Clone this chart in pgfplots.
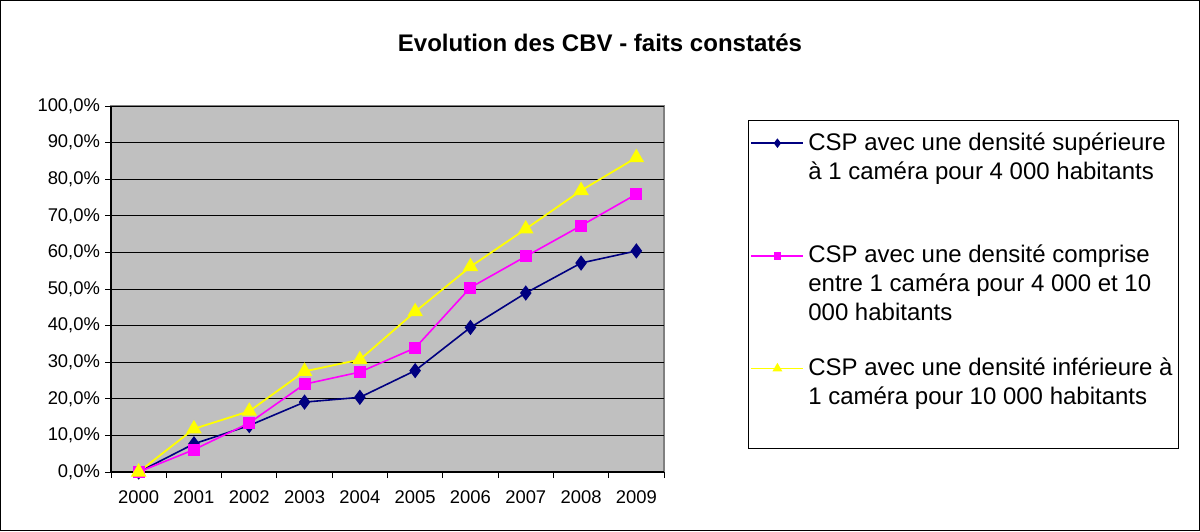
\documentclass[border=0pt]{standalone}
\usepackage{pgfplots}
\pgfplotsset{compat=1.18}
\usepackage{fontspec}
\setmainfont{Liberation Sans}
\definecolor{navyc}{RGB}{0,0,128}
\definecolor{magc}{RGB}{255,0,255}
\definecolor{yelc}{RGB}{255,255,0}
\definecolor{silverc}{RGB}{192,192,192}
\definecolor{grayc}{RGB}{128,128,128}
\begin{document}
\begin{tikzpicture}
\useasboundingbox (0,0) rectangle (600pt,265.5pt);
\draw[black, line width=0.6pt] (0.3pt,0.3pt) rectangle (599.7pt,265.2pt);
\node[font=\fontsize{12}{14}\selectfont\bfseries] at (300pt,244pt) {Evolution des CBV - faits constatés};
\begin{axis}[
  at={(55.5pt,29.5pt)}, anchor=south west,
  scale only axis, width=276.5pt, height=183pt,
  xmin=-0.5, xmax=9.5, ymin=0, ymax=100,
  axis background/.style={fill=silverc, draw=grayc, line width=0.8pt},
  axis x line*=bottom, axis y line*=left,
  axis line style={black, line width=0.6pt},
  xtick={-0.5,0.5,...,9.5},
  x tick label as interval,
  xticklabels={2000,2001,2002,2003,2004,2005,2006,2007,2008,2009},
  ytick={0,10,...,100},
  yticklabels={{0,0\%},{10,0\%},{20,0\%},{30,0\%},{40,0\%},{50,0\%},{60,0\%},{70,0\%},{80,0\%},{90,0\%},{100,0\%}},
  tick align=outside, major tick length=3pt,
  tick style={black, line width=0.5pt},
  ymajorgrids, grid style={black, line width=0.5pt},
  ticklabel style={font=\fontsize{9.2}{11}\selectfont},
  xticklabel style={yshift=-3pt},
  yticklabel style={xshift=1pt},
  clip=false,
  legend style={at={(1.1519,0.9617)}, anchor=north west, draw=black, line width=0.5pt,
    font=\fontsize{12}{14.5}\selectfont, row sep=13pt, inner xsep=1pt, inner ysep=4pt,
    nodes={anchor=base west, align=left}},
  legend image code/.code={\draw[mark repeat=2,mark phase=2,#1,every mark/.append style={scale=0.55}] plot coordinates {(0pt,0.35em) (13pt,0.35em) (26pt,0.35em)};},
]
\addplot[navyc, line width=0.8pt, mark=diamond*, mark size=3.2pt, mark options={fill=navyc},
  legend image post style={yshift=29pt}]
  coordinates {(0,0) (1,7.7) (2,12.7) (3,19.1) (4,20.4) (5,27.7) (6,39.5) (7,48.9) (8,57.1) (9,60.4)};
\addlegendentry{CSP avec une densité supérieure\\à 1 caméra pour 4 000 habitants\\\mbox{}}
\addplot[magc, line width=0.8pt, mark=square*, mark size=2.6pt, mark options={fill=magc},
  legend image post style={yshift=29pt}]
  coordinates {(0,0) (1,6.1) (2,13.4) (3,24.0) (4,27.3) (5,33.9) (6,50.4) (7,58.9) (8,67.3) (9,75.9)};
\addlegendentry{CSP avec une densité comprise\\entre 1 caméra pour 4 000 et 10\\000 habitants}
\addplot[yelc, line width=0.9pt, mark=triangle*, mark size=3.6pt, mark options={fill=yelc},
  legend image post style={yshift=29pt}]
  coordinates {(0,0) (1,11.8) (2,16.6) (3,27.5) (4,30.7) (5,43.8) (6,56.1) (7,66.4) (8,76.9) (9,85.9)};
\addlegendentry{CSP avec une densité inférieure à\\1 caméra pour 10 000 habitants\\\mbox{}}
\end{axis}
\end{tikzpicture}
\end{document}
